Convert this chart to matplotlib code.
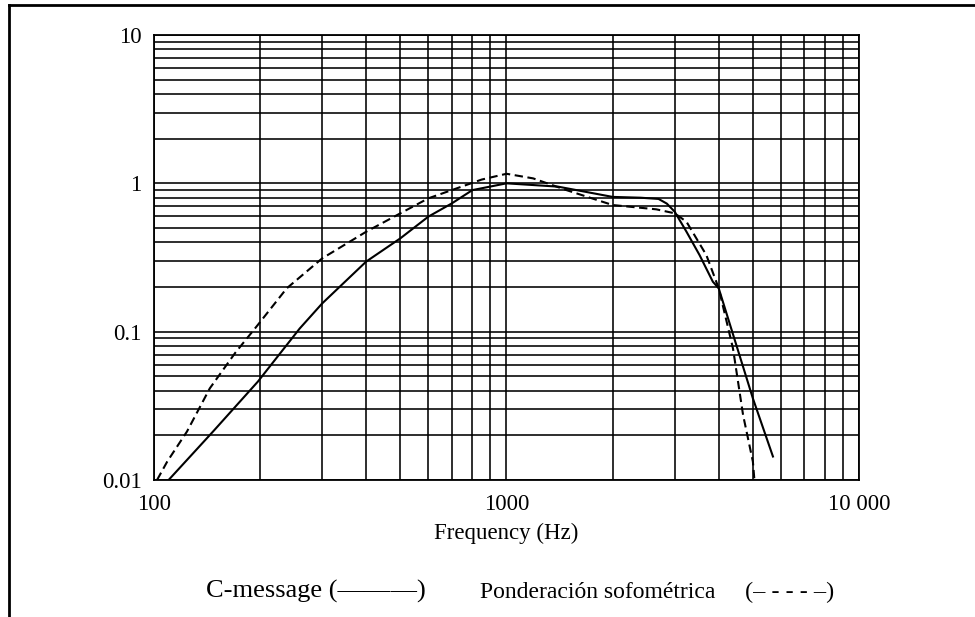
import matplotlib.pyplot as plt
from matplotlib.ticker import FixedLocator, FixedFormatter, LogLocator, NullFormatter

# C-message weighting (solid)
cmsg_freq = [110, 147, 197, 259, 300, 400, 500, 600, 700, 800, 1000, 1400,
             2000, 2400, 2700, 2850, 3000, 3240, 3530, 3850, 4000, 5000, 5700]
cmsg_val = [0.01, 0.0212, 0.046, 0.105, 0.155, 0.297, 0.426, 0.596, 0.733, 0.90,
            1.0, 0.95, 0.81, 0.80, 0.785, 0.73, 0.644, 0.472, 0.328, 0.217,
            0.196, 0.0355, 0.0144]

# psophometric weighting (dashed)
psof_freq = [102, 109, 124, 144, 170, 197, 238, 300, 400, 500, 600, 700, 850,
             1000, 1190, 1480, 2000, 2660, 3000, 3240, 3690, 4000, 4390, 4690,
             5000, 5050]
psof_val = [0.01, 0.0133, 0.0212, 0.0415, 0.072, 0.111, 0.196, 0.312, 0.472,
            0.628, 0.792, 0.901, 1.06, 1.16, 1.08, 0.90, 0.714, 0.668, 0.628,
            0.551, 0.328, 0.196, 0.0772, 0.0274, 0.0133, 0.01]

x_ticks = [100, 1000, 10000]
x_labels = ["100", "1000", "10 000"]
y_ticks = [0.01, 0.1, 1, 10]
y_labels = ["0.01", "0.1", "1", "10"]

plt.rcParams['font.family'] = ['Liberation Serif', 'DejaVu Serif']

fig = plt.figure(figsize=(9.75, 6.17), dpi=100)
ax = fig.add_axes([154 / 975, 1 - 480 / 617, 705 / 975, 445 / 617])

ax.plot(cmsg_freq, cmsg_val, color="black", lw=1.5)
ax.plot(psof_freq, psof_val, color="black", lw=1.5, dashes=(4, 2.2))

ax.set_xscale("log")
ax.set_yscale("log")
ax.set_xlim(100, 10000)
ax.set_ylim(0.01, 10)

ax.xaxis.set_major_locator(FixedLocator(x_ticks))
ax.xaxis.set_major_formatter(FixedFormatter(x_labels))
ax.yaxis.set_major_locator(FixedLocator(y_ticks))
ax.yaxis.set_major_formatter(FixedFormatter(y_labels))
for axis in (ax.xaxis, ax.yaxis):
    axis.set_minor_locator(LogLocator(base=10, subs=range(2, 10)))
    axis.set_minor_formatter(NullFormatter())

ax.grid(True, which="both", color="black", lw=1.15)
ax.tick_params(which="both", length=0)
ax.tick_params(axis="x", labelsize=16.5, pad=10)
ax.tick_params(axis="y", labelsize=16.5, pad=9)
for s in ax.spines.values():
    s.set_linewidth(1.3)

ax.set_xlabel("Frequency (Hz)", fontsize=16.5)
ax.xaxis.label.set_va("baseline")
ax.xaxis.set_label_coords(0.5, -59 / 445)

fig.text(206 / 975, 1 - 598 / 617, "C-message (———)", fontsize=19, va="baseline")
fig.text(480 / 975, 1 - 598 / 617, "Ponderación sofométrica", fontsize=17, va="baseline")
fig.text(745 / 975, 1 - 598 / 617, "(– - - - –)", fontsize=17.5, va="baseline")

# page frame (top and left edges)
fig.add_artist(plt.Line2D([9 / 975, 9 / 975], [0, 1 - 5 / 617], color="black", lw=2))
fig.add_artist(plt.Line2D([9 / 975, 1], [1 - 5 / 617, 1 - 5 / 617], color="black", lw=2))

fig.savefig("out.png", dpi=100)
